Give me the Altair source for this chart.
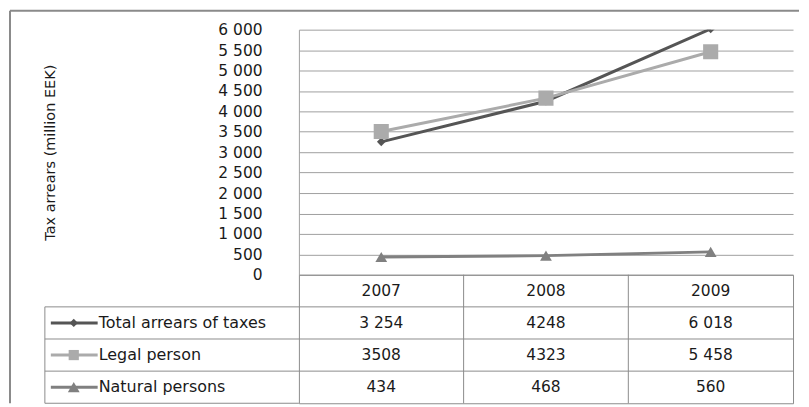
import altair as alt
import pandas as pd

# ---- data ----
years = ["2007", "2008", "2009"]
series = ["Total arrears of taxes", "Legal person", "Natural persons"]
total = [3254, 4248, 6018]
legal = [3508, 4323, 5458]
natural = [434, 468, 560]
total_txt = ["3 254", "4248", "6 018"]
legal_txt = ["3508", "4323", "5 458"]
natural_txt = ["434", "468", "560"]
y_ticks = list(range(0, 6001, 500))
y_title = "Tax arrears (million EEK)"

# ---- style ----
colors = ["#555555", "#ababab", "#808080"]
shapes = ["diamond", "square", "triangle-up"]
sizes = [75, 230, 140]
legend_sizes = [70, 140, 110]
FONT = "DejaVu Sans"
TXT = "#1a1a1a"
GRID = "#a0a0a0"
W, H, TH = 496, 246, 129

values = [total, legal, natural]
texts = [total_txt, legal_txt, natural_txt]
long = pd.DataFrame(
    [
        {"series": s, "year": y, "value": v, "label": t}
        for s, vals, txts in zip(series, values, texts)
        for y, v, t in zip(years, vals, txts)
    ]
)

xs = alt.Scale(type="point", domain=years, padding=0.5)
ys = alt.Scale(domain=[0, 6000], nice=False, zero=True)
yaxis = alt.Axis(
    values=y_ticks,
    title=y_title,
    grid=True,
    gridColor=GRID,
    gridWidth=1,
    domainColor=GRID,
    domainWidth=1,
    ticks=False,
    labelPadding=37,
    labelExpr="replace(format(datum.value, ','), ',', ' ')",
    labelFont=FONT,
    labelFontSize=15.5,
    labelColor=TXT,
    titleFont=FONT,
    titleFontSize=14.5,
    titleFontWeight="normal",
    titleColor=TXT,
    titleX=-249,
    titleY=H / 2,
    titleAngle=270,
    titleAlign="center",
    titleBaseline="middle",
)

layers = []
for i, s in enumerate(series):
    d = long[long.series == s]
    base = alt.Chart(d).encode(
        x=alt.X("year:O", scale=xs, axis=None),
        y=alt.Y("value:Q", scale=ys, axis=yaxis),
    )
    layers.append(base.mark_line(color=colors[i], strokeWidth=3, clip=True))
    layers.append(
        base.mark_point(
            shape=shapes[i], size=sizes[i], filled=True, color=colors[i],
            opacity=1, clip=True,
        )
    )

one = pd.DataFrame({"k": [0]})
border_left = alt.Chart(one).mark_rule(color="#8a8a8a", strokeWidth=2).encode(
    x=alt.value(-290), y=alt.value(-19), y2=alt.value(H + TH)
)
border_top = alt.Chart(one).mark_rule(color="#8a8a8a", strokeWidth=2).encode(
    x=alt.value(-290), x2=alt.value(W + 6), y=alt.value(-19)
)

top = alt.layer(border_left, border_top, *layers).properties(
    width=W, height=H, view=alt.ViewBackground(stroke="transparent")
)

# ---- data table ----
rows = ["hdr"] + series
ysc = alt.Scale(type="band", domain=rows, paddingInner=0, paddingOuter=0)
xsc = alt.Scale(type="band", domain=years, paddingInner=0, paddingOuter=0)

cells = pd.DataFrame(
    [{"row": "hdr", "year": y, "label": y} for y in years]
    + [{"row": r["series"], "year": r["year"], "label": r["label"]} for _, r in long.iterrows()]
)
ser_df = pd.DataFrame({"row": series})
yr_df = pd.DataFrame({"year": years[1:]})
LINE = "#8c8c8c"

vlines = alt.Chart(yr_df).mark_rule(color=LINE, strokeWidth=1).encode(
    x=alt.X("year:N", scale=xsc, bandPosition=0, axis=None),
    y=alt.value(0), y2=alt.value(TH),
)
hlines = alt.Chart(ser_df).mark_rule(color=LINE, strokeWidth=1).encode(
    y=alt.Y("row:N", scale=ysc, bandPosition=0, axis=None),
    x=alt.value(-255), x2=alt.value(W),
)
bottom_left = alt.Chart(one).mark_rule(color=LINE, strokeWidth=1).encode(
    y=alt.value(TH), x=alt.value(-255), x2=alt.value(0)
)
left_v = alt.Chart(ser_df.iloc[:1]).mark_rule(color=LINE, strokeWidth=1).encode(
    x=alt.value(-255),
    y=alt.Y("row:N", scale=ysc, bandPosition=0, axis=None),
    y2=alt.value(TH),
)
cell_text = alt.Chart(cells).mark_text(
    font=FONT, fontSize=15.5, color=TXT, align="center", baseline="middle"
).encode(
    x=alt.X("year:N", scale=xsc, bandPosition=0.5, axis=None),
    y=alt.Y("row:N", scale=ysc, bandPosition=0.5, axis=None),
    text="label:N",
)
row_text = alt.Chart(ser_df).mark_text(
    font=FONT, fontSize=16, color=TXT, align="left", baseline="middle"
).encode(
    x=alt.value(-201),
    y=alt.Y("row:N", scale=ysc, bandPosition=0.5, axis=None),
    text="row:N",
)
cscale = alt.Scale(domain=series, range=colors)
leg_line = alt.Chart(ser_df).mark_rule(strokeWidth=3).encode(
    x=alt.value(-249), x2=alt.value(-202),
    y=alt.Y("row:N", scale=ysc, bandPosition=0.5, axis=None),
    color=alt.Color("row:N", scale=cscale, legend=None),
)
leg_pt = alt.Chart(ser_df).mark_point(filled=True, opacity=1).encode(
    x=alt.value(-226),
    y=alt.Y("row:N", scale=ysc, bandPosition=0.5, axis=None),
    color=alt.Color("row:N", scale=cscale, legend=None),
    shape=alt.Shape("row:N", scale=alt.Scale(domain=series, range=shapes), legend=None),
    size=alt.Size("row:N", scale=alt.Scale(domain=series, range=legend_sizes), legend=None),
)

table = alt.layer(
    vlines, hlines, bottom_left, left_v, cell_text, row_text, leg_line, leg_pt
).properties(
    width=W, height=TH, view=alt.ViewBackground(stroke=LINE, strokeWidth=1)
)

chart = alt.vconcat(top, table, spacing=0, bounds="flush").properties(
    padding=0, background="white"
)

chart.save("out.html", embed_options={"renderer": "svg", "actions": False})
